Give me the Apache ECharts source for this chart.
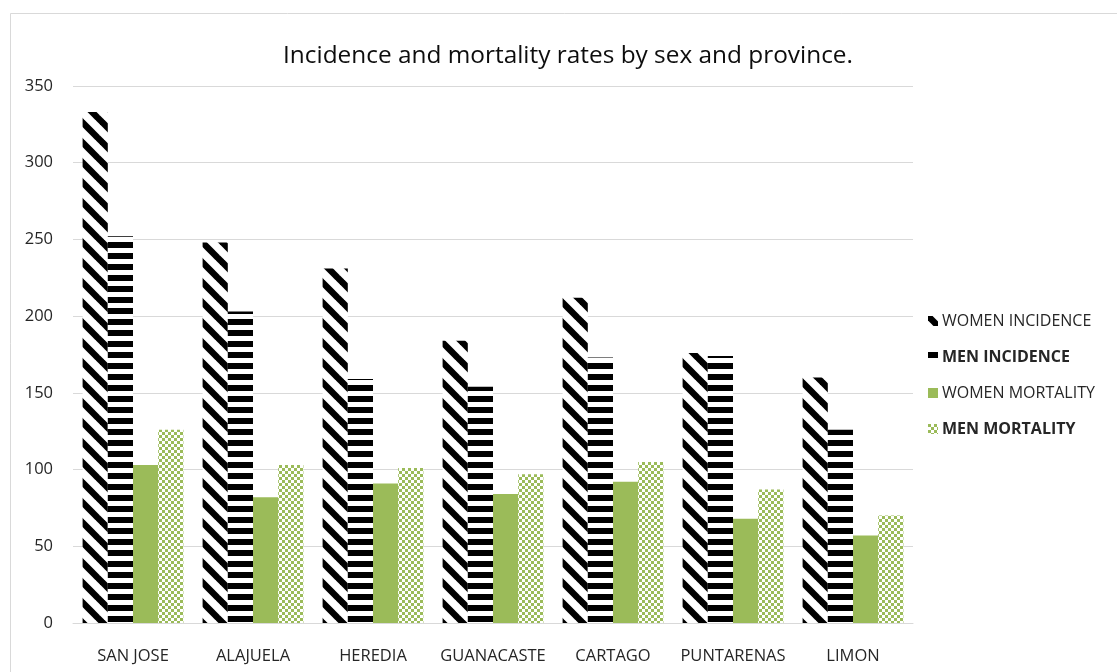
<!DOCTYPE html>
<html>
<head>
<meta charset="utf-8">
<script src="https://cdn.jsdelivr.net/npm/echarts@6/dist/echarts.min.js"></script>
<style>
  html, body { margin: 0; padding: 0; background: #fff; }
  #chart { width: 1117px; height: 672px; }
</style>
</head>
<body>
<div id="chart"></div>
<script>
// Rates per province
const provinces = ['SAN JOSE', 'ALAJUELA', 'HEREDIA', 'GUANACASTE', 'CARTAGO', 'PUNTARENAS', 'LIMON'];
const womenIncidence = [333, 248, 231, 184, 212, 176, 160];
const menIncidence   = [252, 203, 159, 154, 173, 174, 126];
const womenMortality = [103, 82, 91, 84, 92, 68, 57];
const menMortality   = [126, 103, 101, 97, 105, 87, 70];

const GREEN = '#9BBB59';
const FONT = '"Open Sans", "Liberation Sans", sans-serif';

// Fill patterns drawn on small canvases
function diagonalPattern() {
  const s = 20, c = document.createElement('canvas');
  c.width = s; c.height = s;
  const g = c.getContext('2d');
  g.fillStyle = '#fff'; g.fillRect(0, 0, s, s);
  g.strokeStyle = '#000'; g.lineWidth = 6.5;
  for (const o of [-s, 0, s]) {
    g.beginPath(); g.moveTo(o - 2, -2); g.lineTo(o + s + 2, s + 2); g.stroke();
  }
  return { image: c, repeat: 'repeat' };
}
function horizontalPattern() {
  const c = document.createElement('canvas');
  c.width = 4; c.height = 11;
  const g = c.getContext('2d');
  g.fillStyle = '#fff'; g.fillRect(0, 0, 4, 11);
  g.fillStyle = '#000'; g.fillRect(0, 0, 4, 6);
  return { image: c, repeat: 'repeat' };
}
function checkerPattern() {
  const c = document.createElement('canvas');
  c.width = 6; c.height = 6;
  const g = c.getContext('2d');
  g.fillStyle = '#fff'; g.fillRect(0, 0, 6, 6);
  g.fillStyle = GREEN; g.fillRect(0, 0, 3, 3); g.fillRect(3, 3, 3, 3);
  return { image: c, repeat: 'repeat' };
}

const chart = echarts.init(document.getElementById('chart'), null, { renderer: 'canvas' });

chart.setOption({
  backgroundColor: '#fff',
  animation: false,
  graphic: [{
    type: 'rect',
    shape: { x: 10.5, y: 13.5, width: 1200, height: 800 },
    style: { fill: 'none', stroke: '#D9D9D9', lineWidth: 1 },
    silent: true
  }],
  title: {
    text: 'Incidence and mortality rates by sex and province.',
    left: 563, top: 39, textAlign: 'center',
    textStyle: { fontFamily: FONT, fontSize: 24.4, fontWeight: 'normal', color: '#0D0D0D' }
  },
  legend: {
    orient: 'vertical',
    left: 928, top: 313, padding: 0,
    itemWidth: 10, itemHeight: 10, itemGap: 20,
    icon: 'rect',
    textStyle: { fontFamily: FONT, fontSize: 16, color: '#262626', padding: [0, 0, 0, -1] },
    data: [
      { name: 'WOMEN INCIDENCE' },
      { name: 'MEN INCIDENCE', textStyle: { fontWeight: 'bold' } },
      { name: 'WOMEN MORTALITY' },
      { name: 'MEN MORTALITY', textStyle: { fontWeight: 'bold' } }
    ]
  },
  grid: { left: 73, right: 204, top: 86, bottom: 49 },
  xAxis: {
    type: 'category',
    data: provinces,
    axisLine: { lineStyle: { color: '#D9D9D9' } },
    axisTick: { show: false },
    axisLabel: { interval: 0, hideOverlap: false, fontFamily: FONT, fontSize: 16.5, color: '#262626', margin: 25 }
  },
  yAxis: {
    type: 'value',
    min: 0, max: 350, interval: 50,
    axisLine: { show: false },
    axisTick: { show: false },
    splitLine: { lineStyle: { color: '#D9D9D9' } },
    axisLabel: { fontFamily: FONT, fontSize: 16.5, color: '#262626', margin: 20 }
  },
  series: [
    { name: 'WOMEN INCIDENCE', type: 'bar', data: womenIncidence, itemStyle: { color: diagonalPattern() }, barGap: '0%', barCategoryGap: '16%' },
    { name: 'MEN INCIDENCE', type: 'bar', data: menIncidence, itemStyle: { color: horizontalPattern() } },
    { name: 'WOMEN MORTALITY', type: 'bar', data: womenMortality, itemStyle: { color: GREEN } },
    { name: 'MEN MORTALITY', type: 'bar', data: menMortality, itemStyle: { color: checkerPattern() } }
  ]
});
</script>
</body>
</html>
